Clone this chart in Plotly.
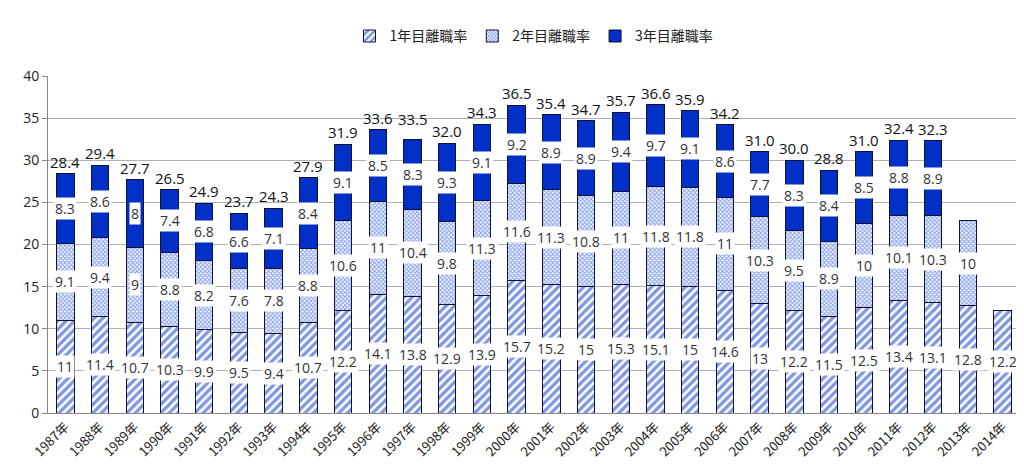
import plotly.graph_objects as go

years = [f"{y}年" for y in range(1987, 2015)]
year1 = [11, 11.4, 10.7, 10.3, 9.9, 9.5, 9.4, 10.7, 12.2, 14.1, 13.8, 12.9, 13.9, 15.7,
         15.2, 15, 15.3, 15.1, 15, 14.6, 13, 12.2, 11.5, 12.5, 13.4, 13.1, 12.8, 12.2]
year2 = [9.1, 9.4, 9, 8.8, 8.2, 7.6, 7.8, 8.8, 10.6, 11, 10.4, 9.8, 11.3, 11.6,
         11.3, 10.8, 11, 11.8, 11.8, 11, 10.3, 9.5, 8.9, 10, 10.1, 10.3, 10, None]
year3 = [8.3, 8.6, 8, 7.4, 6.8, 6.6, 7.1, 8.4, 9.1, 8.5, 8.3, 9.3, 9.1, 9.2,
         8.9, 8.9, 9.4, 9.7, 9.1, 8.6, 7.7, 8.3, 8.4, 8.5, 8.8, 8.9, None, None]
totals = [28.4, 29.4, 27.7, 26.5, 24.9, 23.7, 24.3, 27.9, 31.9, 33.6, 33.5, 32.0, 34.3, 36.5,
          35.4, 34.7, 35.7, 36.6, 35.9, 34.2, 31.0, 30.0, 28.8, 31.0, 32.4, 32.3, None, None]

FONT = "Open Sans"
BLUE = "#0030C8"
fig = go.Figure()
fig.add_bar(x=years, y=year1, name="1年目離職率",
            marker=dict(color="white", line=dict(color="#111133", width=1),
                        pattern=dict(shape="/", fgcolor=BLUE, bgcolor="white", size=6, solidity=0.55)))
fig.add_bar(x=years, y=year2, name="2年目離職率",
            marker=dict(color="white", line=dict(color="#111133", width=1),
                        pattern=dict(shape="x", fgcolor="#2050E0", bgcolor="white", size=3, solidity=0.6)))
fig.add_bar(x=years, y=year3, name="3年目離職率",
            marker=dict(color=BLUE, line=dict(color="#111133", width=1)))

def fmt(v):
    return f"{v:g}"

for i, x in enumerate(years):
    base = 0
    for s in (year1, year2, year3):
        v = s[i]
        if v is None:
            continue
        fig.add_annotation(x=x, y=base + v / 2, text=fmt(v), showarrow=False,
                           bgcolor="white", font=dict(size=14, color="#333"), borderpad=1)
        base += v
    if totals[i] is not None:
        fig.add_annotation(x=x, y=totals[i], text=f"{totals[i]:.1f}", showarrow=False,
                           yshift=12, font=dict(size=15, color="#111"))

fig.update_layout(
    barmode="stack", bargap=0.5, width=1024, height=472,
    plot_bgcolor="white", paper_bgcolor="white",
    font=dict(family=FONT, size=12, color="#222"),
    margin=dict(l=40, r=12, t=52, b=67),
    legend=dict(orientation="h", x=0.5, xanchor="center", y=1.07, yanchor="bottom",
                traceorder="normal", font=dict(size=14, family="Noto Sans CJK JP")),
    xaxis=dict(tickangle=-45, showline=True, linecolor="#888",
               tickfont=dict(family="Noto Sans CJK JP", size=13)),
    yaxis=dict(range=[0, 40], dtick=5, gridcolor="#b0b0b0", showline=True, linecolor="#888",
               ticks="outside", tickcolor="#888", tickfont=dict(size=14)),
)
fig.write_html("out.html")
